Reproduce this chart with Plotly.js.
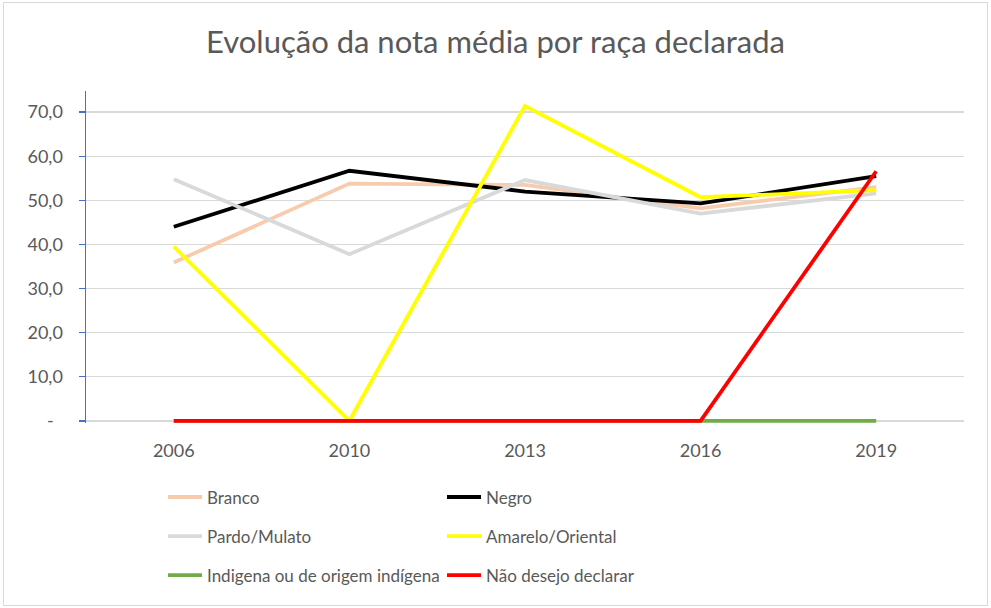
<!DOCTYPE html>
<html>
<head>
<meta charset="utf-8">
<script src="https://cdn.plot.ly/plotly-3.0.1.min.js"></script>
<style>
  html, body { margin: 0; padding: 0; background: #fff; }
  #wrap { position: relative; width: 991px; height: 608px; }
  #chart { position: absolute; left: 0; top: 0; width: 991px; height: 608px; }
  #frame { position: absolute; left: 3px; top: 2px; width: 983px; height: 602px;
           border: 1.5px solid #d9d9d9; pointer-events: none; }
</style>
</head>
<body>
<div id="wrap"><div id="chart"></div><div id="frame"></div></div>
<script>
const years = ["2006", "2010", "2013", "2016", "2019"];

const branco    = [35.9, 53.8, 53.5, 48.2, 53.0];
const negro     = [44.0, 56.7, 52.0, 49.3, 55.5];
const pardo     = [54.8, 37.8, 54.6, 47.0, 51.6];
const amarelo   = [39.5, 0.0, 71.4, 50.7, 52.3];
const indigena  = [0, 0, 0, 0, 0];
const naoDeclar = [0, 0, 0, 0, 56.6];

const seriesNames = ["Branco", "Negro", "Pardo/Mulato", "Amarelo/Oriental",
                     "Indigena ou de origem indígena", "Não desejo declarar"];
const seriesColors = ["#F8CBAD", "#000000", "#D9D9D9", "#FFFF00", "#70AD47", "#FF0000"];
const seriesLegend = ["legend", "legend2", "legend", "legend2", "legend", "legend2"];
const seriesData = [branco, negro, pardo, amarelo, indigena, naoDeclar];

const yTickVals = [0, 10, 20, 30, 40, 50, 60, 70];
const yTickText = ["-\u00a0\u00a0", "10,0", "20,0", "30,0", "40,0", "50,0", "60,0", "70,0"];

const FONT = "Lato, 'Open Sans', sans-serif";
const GREY = "#595959";

const traces = seriesData.map((vals, i) => ({
  type: "scatter",
  mode: "lines",
  x: years,
  y: vals,
  name: seriesNames[i],
  legend: seriesLegend[i],
  legendgroup: "g" + i,
  line: { color: seriesColors[i], width: 3.8, shape: "linear" },
  hoverinfo: "x+y+name"
}));

const legendCommon = {
  orientation: "v",
  traceorder: "grouped",
  tracegroupgap: 14,
  itemwidth: 34,
  font: { family: FONT, size: 17, color: GREY },
  bgcolor: "rgba(0,0,0,0)",
  borderwidth: 0,
  xanchor: "left",
  yanchor: "top",
  y: -0.17
};

const layout = {
  width: 991,
  height: 608,
  margin: { l: 86, r: 27, t: 91, b: 185 },
  paper_bgcolor: "#ffffff",
  plot_bgcolor: "#ffffff",
  title: {
    text: "Evolução da nota média por raça declarada",
    font: { family: FONT, size: 31, color: GREY },
    x: 0.5, xanchor: "center",
    y: 0.93, yanchor: "middle", yref: "container"
  },
  xaxis: {
    type: "category",
    range: [-0.5, 4.5],
    showgrid: false,
    zeroline: false,
    showline: false,
    ticks: "",
    ticklabelstandoff: 15,
    tickfont: { family: FONT, size: 18, color: GREY }
  },
  yaxis: {
    range: [-0.5, 74.8],
    tickvals: yTickVals,
    ticktext: yTickText,
    showgrid: true,
    gridcolor: "#d9d9d9",
    gridwidth: 1.5,
    zeroline: false,
    showline: true,
    linecolor: "#4472C4",
    linewidth: 1.5,
    ticks: "outside",
    ticklen: 6,
    tickcolor: "#4472C4",
    tickwidth: 1.5,
    ticklabelstandoff: 12,
    tickfont: { family: FONT, size: 18, color: GREY }
  },
  legend: Object.assign({}, legendCommon, { x: (163 - 86) / 878 }),
  legend2: Object.assign({}, legendCommon, { x: (442 - 86) / 878 }),
  showlegend: true
};

Plotly.newPlot("chart", traces, layout, { displayModeBar: false, staticPlot: true });
</script>
</body>
</html>
